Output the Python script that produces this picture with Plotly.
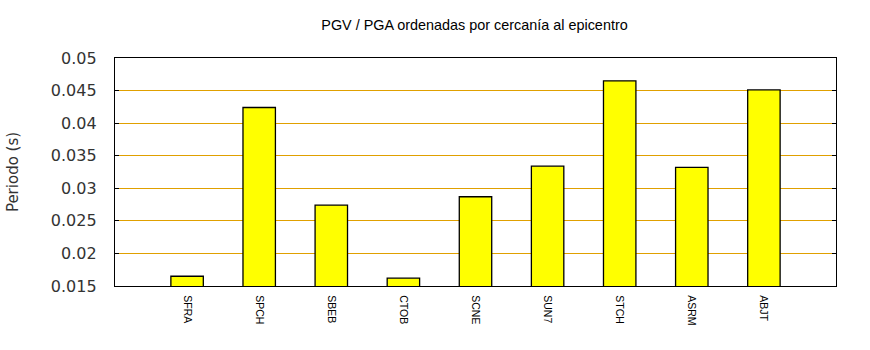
import plotly.graph_objects as go

stations = ["SFRA", "SPCH", "SBEB", "CTOB", "SCNE", "SUN7", "STCH", "ASRM", "ABJT"]
periods = [0.0165, 0.0424, 0.0274, 0.0162, 0.0287, 0.0334, 0.0465, 0.0332, 0.0451]
y_ticks = [0.015, 0.02, 0.025, 0.03, 0.035, 0.04, 0.045, 0.05]
y_tick_text = ["0.015", "0.02", "0.025", "0.03", "0.035", "0.04", "0.045", "0.05"]

x_pos = list(range(1, len(stations) + 1))

fig = go.Figure()
fig.add_trace(go.Bar(
    x=x_pos,
    y=periods,
    base=0,
    width=0.45,
    marker=dict(color="#ffff00", line=dict(color="#000000", width=1.3)),
    hoverinfo="skip",
))

fig.update_layout(
    width=870,
    height=350,
    margin=dict(l=113, r=34, t=58, b=64),
    paper_bgcolor="white",
    plot_bgcolor="white",
    showlegend=False,
    title=dict(
        text="PGV / PGA ordenadas por cercanía al epicentro",
        x=(113 + 836) / 2 / 870,
        xanchor="center",
        y=1 - 25 / 350,
        yanchor="middle",
        font=dict(family="Liberation Sans, Arial, sans-serif", size=14.4, color="#000000"),
    ),
    xaxis=dict(
        range=[0, 10],
        tickmode="array",
        tickvals=x_pos,
        ticktext=stations,
        tickangle=90,
        tickfont=dict(family="Liberation Sans, Arial, sans-serif", size=10.5, color="#000000"),
        showgrid=False,
        zeroline=False,
        showline=True,
        linecolor="#000000",
        linewidth=1.3,
        mirror=True,
        ticks="",
        ticklabelstandoff=6,
    ),
    yaxis=dict(
        range=[0.015, 0.05],
        tickmode="array",
        tickvals=y_ticks,
        ticktext=y_tick_text,
        tickfont=dict(family="DejaVu Sans, sans-serif", size=16, color="#333333"),
        showgrid=True,
        gridcolor="#e0a000",
        gridwidth=1,
        zeroline=False,
        showline=True,
        linecolor="#000000",
        linewidth=1.3,
        mirror="allticks",
        ticks="inside",
        ticklen=4,
        tickcolor="#000000",
        ticklabelstandoff=14,
        title=dict(
            text="Periodo (s)",
            font=dict(family="DejaVu Sans, sans-serif", size=15, color="#333333"),
            standoff=28,
        ),
    ),
)

fig.write_html("out.html")
